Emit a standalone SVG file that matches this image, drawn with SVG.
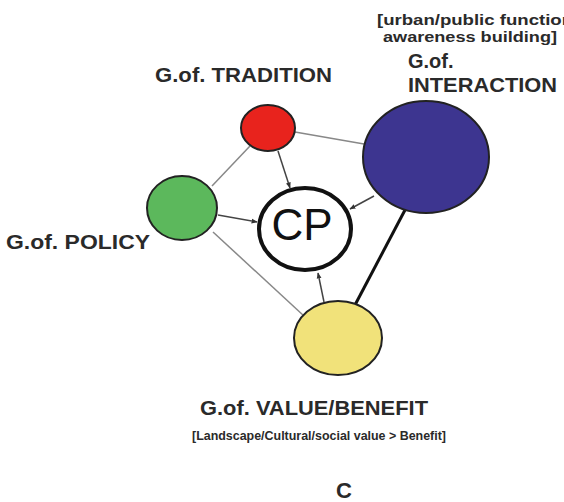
<svg xmlns="http://www.w3.org/2000/svg" width="564" height="502" viewBox="0 0 564 502">
<defs>
<style>
.lbl{font-family:"Liberation Sans",Arial,sans-serif;fill:#2a2a2a;font-weight:bold;}
.big{font-size:20px;}
.small{font-size:14px;}
.sub{font-size:13px;}
.thin{stroke:#888;stroke-width:1.5;fill:none;}
.arr{stroke:#444;stroke-width:1.5;fill:none;}
.thick{stroke:#111;stroke-width:3;fill:none;}
.node{stroke:#222;stroke-width:2;}
</style>
<marker id="ah" viewBox="0 0 10 10" refX="9" refY="5" markerWidth="6" markerHeight="6" orient="auto" markerUnits="userSpaceOnUse">
<path d="M0,1 L10,5 L0,9 z" fill="#333"/>
</marker>
</defs>
<rect width="564" height="502" fill="#fff"/>
<g id="connectors">
<line class="thin" x1="295" y1="132" x2="364" y2="144"/>
<line class="thin" x1="250" y1="146" x2="212" y2="186"/>
<line class="thin" x1="213" y1="232" x2="304" y2="316"/>
<line class="thick" x1="405" y1="210" x2="355" y2="305"/>
<line class="arr" x1="278" y1="151" x2="290" y2="188" marker-end="url(#ah)"/>
<line class="arr" x1="218" y1="215" x2="257" y2="222" marker-end="url(#ah)"/>
<line class="arr" x1="374" y1="196" x2="350" y2="209" marker-end="url(#ah)"/>
<line class="arr" x1="324" y1="302" x2="318" y2="273" marker-end="url(#ah)"/>
</g>
<g id="tradition">
<ellipse class="node" cx="268" cy="128" rx="27" ry="23" fill="#e8231d"/>
<text class="lbl big" x="155" y="82" textLength="177" lengthAdjust="spacingAndGlyphs">G.of. TRADITION</text>
</g>
<g id="interaction">
<ellipse class="node" cx="426" cy="157" rx="63" ry="56" fill="#3d3590"/>
<text class="lbl small" x="377" y="25" textLength="196" lengthAdjust="spacingAndGlyphs">[urban/public function</text>
<text class="lbl small" x="383" y="42" textLength="174" lengthAdjust="spacingAndGlyphs">awareness building]</text>
<text class="lbl big" x="408" y="68">G.of.</text>
<text class="lbl big" x="408" y="92" textLength="149" lengthAdjust="spacingAndGlyphs">INTERACTION</text>
</g>
<g id="policy">
<ellipse class="node" cx="182" cy="208" rx="35" ry="32" fill="#5cb85c"/>
<text class="lbl big" x="6" y="249" textLength="144" lengthAdjust="spacingAndGlyphs">G.of. POLICY</text>
</g>
<g id="cp">
<ellipse cx="305" cy="229" rx="46" ry="41" fill="#fff" stroke="#111" stroke-width="4"/>
<text x="302" y="240" text-anchor="middle" font-family="Liberation Sans,Arial,sans-serif" font-size="44" fill="#111">CP</text>
</g>
<g id="value">
<ellipse class="node" cx="338" cy="338" rx="44" ry="37" fill="#f1e27a"/>
<text class="lbl big" x="200" y="415" textLength="228" lengthAdjust="spacingAndGlyphs">G.of. VALUE/BENEFIT</text>
<text class="lbl sub" x="192" y="440" textLength="254" lengthAdjust="spacingAndGlyphs">[Landscape/Cultural/social value &gt; Benefit]</text>
</g>
<text class="lbl" x="344" y="498" text-anchor="middle" font-size="22">C</text>
</svg>
